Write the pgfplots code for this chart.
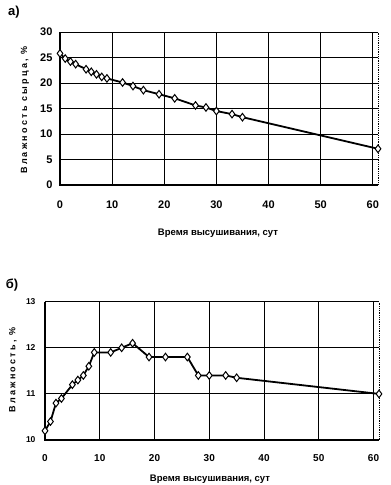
\documentclass[border=0pt]{standalone}
\usepackage{fontspec}
\setmainfont{Liberation Sans}
\newfontfamily\spaced[LetterSpace=25]{Liberation Sans}
\usepackage{pgfplots}
\pgfplotsset{compat=1.18}
\pgfplotstableread{
x y
0 25.8
1 24.8
2 24.2
3 23.7
5 22.7
6 22.2
7 21.7
8 21.2
9 20.9
12 20.1
14 19.4
16 18.6
19 17.8
22 17.0
26 15.6
28 15.2
30 14.5
33 13.9
35 13.3
61 7.1
}\topdata
\pgfplotstableread{
x y
0 10.2
1 10.4
2 10.8
3 10.9
5 11.2
6 11.3
7 11.4
8 11.6
9 11.9
12 11.9
14 12.0
16 12.1
19 11.8
22 11.8
26 11.8
28 11.4
30 11.4
33 11.4
35 11.35
61 11.0
}\botdata
\pgfplotsset{
  myaxis/.style={
    scale only axis,
    anchor=south west,
    xmin=0, xmax=61,
    xtick={0,10,20,30,40,50,60},
    grid=major,
    major grid style={black, line width=0.9pt},
    major tick length=0pt,
    axis line style={draw=none},
    /pgf/number format/assume math mode=true,
    clip=false,
  },
  myplot/.style={black, line width=1.8pt, mark=diamond*,
      mark size=3.8pt, mark options={fill=white, draw=black, line width=1pt}},
}
\begin{document}
\begin{tikzpicture}
\useasboundingbox (0,0) rectangle (391pt,-485pt);
% top chart
\begin{axis}[myaxis, at={(60pt,-185pt)}, width=318pt, height=153pt,
  ymin=0, ymax=30, ytick={0,5,10,15,20,25,30},
  xticklabel style={font=\bfseries\fontsize{11}{12}\selectfont, anchor=center, yshift=-20pt},
  yticklabel style={font=\bfseries\fontsize{11}{12}\selectfont, anchor=east, xshift=-4pt},
  ]
  \addplot[myplot] table[x=x,y=y] {\topdata};
  \draw[black, line width=1.8pt] (rel axis cs:0,1) -- (rel axis cs:0,0) -- (rel axis cs:1,0);
  \draw[black, line width=0.8pt, densely dotted] (rel axis cs:0,1) -- (rel axis cs:1,1) -- (rel axis cs:1,0);
\end{axis}
\node[font=\bfseries\fontsize{13}{14}\selectfont] at (14pt,-12pt) {а)};
\node[rotate=90, font=\bfseries\fontsize{9}{10}\selectfont] at (25pt,-110pt) {\spaced Влажность сырца, \%};
\node[font=\bfseries\fontsize{9.5}{11}\selectfont] at (218pt,-233pt) {Время высушивания, сут};
% bottom chart
\begin{axis}[myaxis, at={(45pt,-440pt)}, width=334pt, height=138.3pt,
  ymin=10, ymax=13, ytick={10,11,12,13},
  xticklabel style={font=\bfseries\fontsize{10}{12}\selectfont, anchor=center, yshift=-18pt},
  yticklabel style={font=\bfseries\fontsize{8.5}{10}\selectfont, anchor=east, xshift=-6pt},
  ]
  \addplot[myplot] table[x=x,y=y] {\botdata};
  \draw[black, line width=1.8pt] (rel axis cs:0,1) -- (rel axis cs:0,0) -- (rel axis cs:1,0);
  \draw[black, line width=0.8pt, densely dotted] (rel axis cs:0,1) -- (rel axis cs:1,1) -- (rel axis cs:1,0);
\end{axis}
\node[font=\bfseries\fontsize{13}{14}\selectfont] at (12pt,-285pt) {б)};
\node[rotate=90, font=\bfseries\fontsize{9}{10}\selectfont] at (13pt,-370pt) {\spaced Влажность, \%};
\node[font=\bfseries\fontsize{9.5}{11}\selectfont] at (210pt,-479pt) {Время высушивания, сут};
\end{tikzpicture}
\end{document}
